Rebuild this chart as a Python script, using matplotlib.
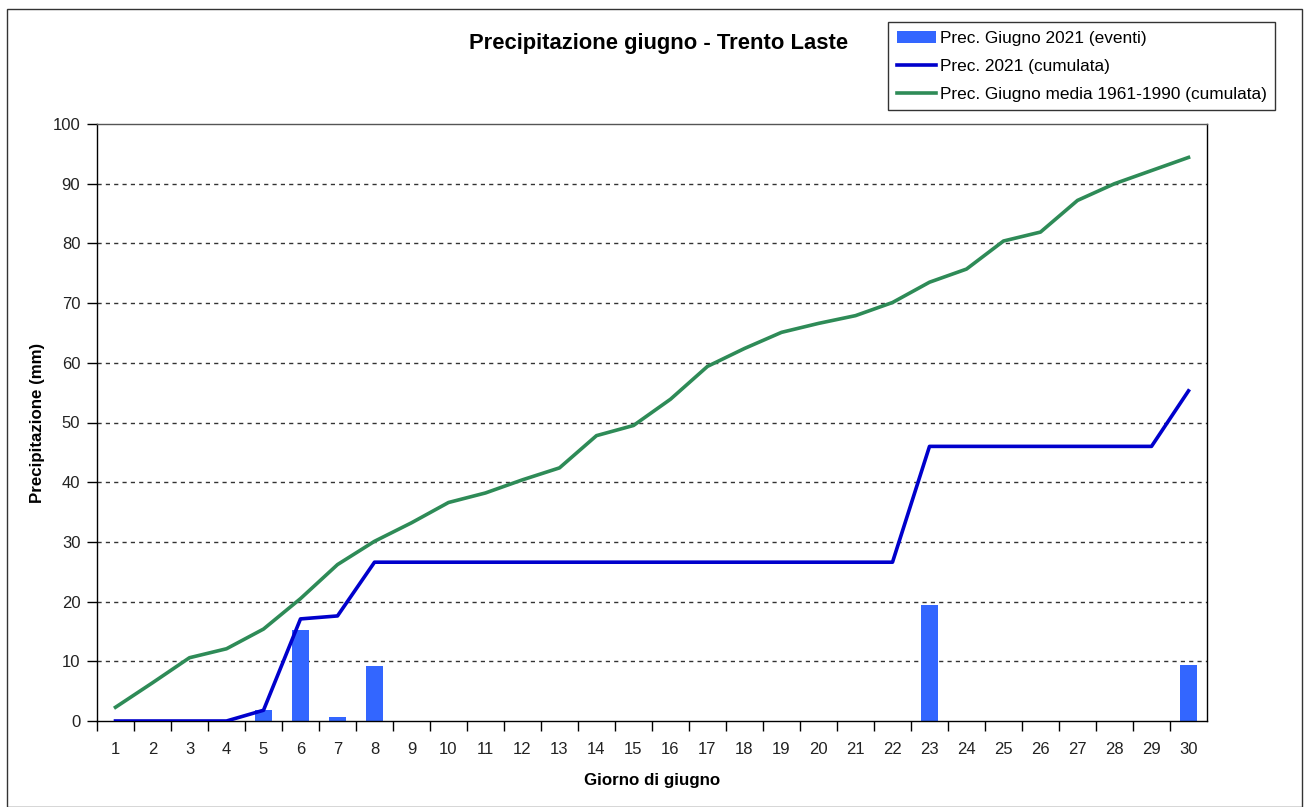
import matplotlib
matplotlib.use("Agg")
import matplotlib.pyplot as plt
from matplotlib.patches import Rectangle
import numpy as np

plt.rcParams['font.family'] = ['Liberation Sans', 'DejaVu Sans']

days = list(range(1, 31))
eventi = [0, 0, 0, 0, 1.8, 15.2, 0.6, 9.2, 0, 0,
          0, 0, 0, 0, 0, 0, 0, 0, 0, 0,
          0, 0, 19.5, 0, 0, 0, 0, 0, 0, 9.4]
cumulata_2021 = [0, 0, 0, 0, 1.8, 17.1, 17.6, 26.6, 26.6, 26.6,
                 26.6, 26.6, 26.6, 26.6, 26.6, 26.6, 26.6, 26.6, 26.6, 26.6,
                 26.6, 26.6, 46.0, 46.0, 46.0, 46.0, 46.0, 46.0, 46.0, 55.3]
media_1961_1990 = [2.3, 6.4, 10.6, 12.1, 15.4, 20.5, 26.2, 30.1, 33.2, 36.6,
                   38.2, 40.4, 42.4, 47.8, 49.5, 53.9, 59.4, 62.4, 65.1, 66.6,
                   67.9, 70.1, 73.5, 75.7, 80.4, 81.9, 87.2, 90.0, 92.2, 94.4]
yticks = list(range(0, 101, 10))

W, H = 1305, 807
fig = plt.figure(figsize=(W / 100, H / 100), dpi=100)
ax = fig.add_axes([97 / W, 1 - 721 / H, (1207 - 97) / W, (721 - 124) / H])

bars = ax.bar(days, eventi, width=0.47, color='#3366FF', zorder=2,
              label='Prec. Giugno 2021 (eventi)')
l1, = ax.plot(days, cumulata_2021, color='#0000CC', lw=2.6, zorder=3,
              label='Prec. 2021 (cumulata)')
l2, = ax.plot(days, media_1961_1990, color='#2E8B57', lw=2.6, zorder=3,
              label='Prec. Giugno media 1961-1990 (cumulata)')

ax.set_xlim(0.5, 30.5)
ax.set_ylim(0, 100)
ax.set_yticks(yticks)
ax.set_xticks([d + 0.5 for d in days[:-1]] + [0.5])
ax.set_xticklabels([])
ax.set_xticks(days, minor=True)
ax.set_xticklabels([str(d) for d in days], minor=True)
ax.tick_params(axis='x', which='minor', length=0, pad=15, labelsize=12, labelcolor='#222222')
ax.tick_params(axis='x', which='major', length=7, direction='out', width=1, color='black')
ax.tick_params(axis='y', length=7, direction='out', width=1, labelsize=12, pad=5,
               labelcolor='#222222')

for y in yticks[1:-1]:
    ax.axhline(y, color='#333333', lw=1.0, ls=(0, (3, 3)), zorder=1)

for s in ax.spines.values():
    s.set_color('black')
    s.set_linewidth(1.0)
ax.spines['top'].set_color('#555555')

xl = ax.set_xlabel('Giorno di giugno', fontsize=12.2, fontweight='bold')
yl = ax.set_ylabel('Precipitazione (mm)', fontsize=12.2, fontweight='bold')
xl.set_verticalalignment('center')
yl.set_verticalalignment('center')
ax.xaxis.set_label_coords(0.5, -(780 - 721) / 597)
ax.yaxis.set_label_coords(-(97 - 38) / 1110, 0.5)

fig.text(659 / W, 1 - 44 / H, 'Precipitazione giugno - Trento Laste',
         ha='center', va='center', fontsize=15.8, fontweight='bold')

leg = fig.legend(handles=[bars, l1, l2], loc='upper left',
                 bbox_to_anchor=(888 / W, 1 - 22 / H), frameon=True, fancybox=False,
                 fontsize=12.4, handlelength=2.3, handletextpad=0.2,
                 borderpad=0.5, labelspacing=0.75, borderaxespad=0)
leg.get_frame().set_edgecolor('black')
leg.get_frame().set_linewidth(1.0)

fig.patches.append(Rectangle((7 / W, 0), (1302 - 7) / W, 1 - 9 / H,
                             transform=fig.transFigure, fill=False,
                             edgecolor='#333333', lw=1.0))

fig.savefig('out.png', dpi=100)
